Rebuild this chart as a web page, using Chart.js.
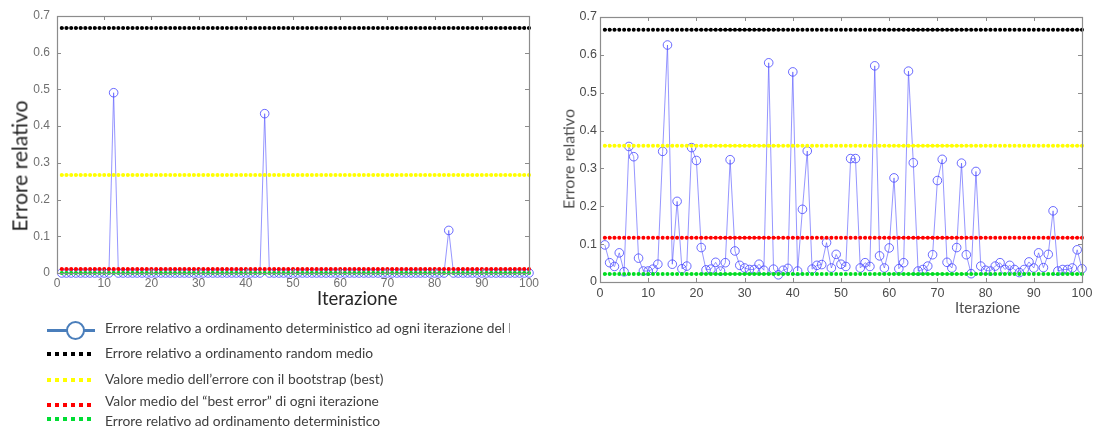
<!DOCTYPE html>
<html>
<head>
<meta charset="utf-8">
<script src="https://cdn.jsdelivr.net/npm/chart.js@4.4.1/dist/chart.umd.min.js"></script>
<style>
  html, body { margin: 0; padding: 0; background: #fff; }
  body { width: 1101px; height: 432px; position: relative; overflow: hidden; font-family: 'Lato', sans-serif; }
  canvas { position: absolute; }
  .txt { position: absolute; white-space: nowrap; line-height: 1.2; }
  .vtxt { position: absolute; white-space: nowrap; line-height: 1.2; transform: translate(-50%, -50%) rotate(-90deg); }
  .legend { position: absolute; left: 0; top: 310px; width: 510px; height: 122px; overflow: hidden; }
  .dots { position: absolute; left: 47px; width: 44px; height: 3.5px; }
  .ltext { position: absolute; left: 105px; font-size: 13.8px; color: #404040; white-space: nowrap; line-height: 1.2; }
</style>
</head>
<body>
<canvas id="leftChart" width="545" height="310" style="left:0;top:0"></canvas>
<canvas id="rightChart" width="551" height="320" style="left:550px;top:0"></canvas>

<div class="vtxt" style="left:19px;top:166px;font-size:21px;color:#262626">Errore relativo</div>
<div class="txt" style="left:317px;top:287px;font-size:18.5px;color:#262626">Iterazione</div>
<div class="vtxt" style="left:568px;top:159px;font-size:16px;color:#505050">Errore relativo</div>
<div class="txt" style="left:955px;top:298px;font-size:15px;color:#505050">Iterazione</div>

<div class="legend">
  <div style="position:absolute;left:47px;top:19px;width:48px;height:3px;background:#4a7ebb"></div>
  <div style="position:absolute;left:66px;top:11px;width:15px;height:15px;border:2px solid #4a7ebb;border-radius:50%;background:#fff"></div>
  <div class="ltext" style="top:10px">Errore relativo a ordinamento deterministico ad ogni iterazione del bootstrap</div>

  <div class="dots" style="top:42px;background:repeating-linear-gradient(90deg,#000 0 4px,transparent 4px 8px)"></div>
  <div class="ltext" style="top:35px">Errore relativo a ordinamento random medio</div>

  <div class="dots" style="top:68px;background:repeating-linear-gradient(90deg,#ffff00 0 4px,transparent 4px 8px)"></div>
  <div class="ltext" style="top:61px">Valore medio dell’errore con il bootstrap (best)</div>

  <div class="dots" style="top:93px;background:repeating-linear-gradient(90deg,#ff0000 0 4px,transparent 4px 8px)"></div>
  <div class="ltext" style="top:83px">Valor medio del “best error” di ogni iterazione</div>

  <div class="dots" style="top:107px;background:repeating-linear-gradient(90deg,#00dd33 0 4px,transparent 4px 8px)"></div>
  <div class="ltext" style="top:103px">Errore relativo ad ordinamento deterministico</div>
</div>

<script>
// iteration index shared by both plots
const iterations = [
  1, 2, 3, 4, 5, 6, 7, 8, 9, 10,
  11, 12, 13, 14, 15, 16, 17, 18, 19, 20,
  21, 22, 23, 24, 25, 26, 27, 28, 29, 30,
  31, 32, 33, 34, 35, 36, 37, 38, 39, 40,
  41, 42, 43, 44, 45, 46, 47, 48, 49, 50,
  51, 52, 53, 54, 55, 56, 57, 58, 59, 60,
  61, 62, 63, 64, 65, 66, 67, 68, 69, 70,
  71, 72, 73, 74, 75, 76, 77, 78, 79, 80,
  81, 82, 83, 84, 85, 86, 87, 88, 89, 90,
  91, 92, 93, 94, 95, 96, 97, 98, 99, 100
];

const xTicks = [0, 10, 20, 30, 40, 50, 60, 70, 80, 90, 100];
const yTicks = [0, 0.1, 0.2, 0.3, 0.4, 0.5, 0.6, 0.7];
const yTickLabels = ['0', '0.1', '0.2', '0.3', '0.4', '0.5', '0.6', '0.7'];

// left plot: deterministic-order error at each bootstrap iteration
const leftDeterministic = [
  0, 0, 0, 0, 0, 0, 0, 0, 0, 0,
  0, 0.491, 0, 0, 0, 0, 0, 0, 0, 0,
  0, 0, 0, 0, 0, 0, 0, 0, 0, 0,
  0, 0, 0, 0, 0, 0, 0, 0, 0, 0,
  0, 0, 0, 0.434, 0, 0, 0, 0, 0, 0,
  0, 0, 0, 0, 0, 0, 0, 0, 0, 0,
  0, 0, 0, 0, 0, 0, 0, 0, 0, 0,
  0, 0, 0, 0, 0, 0, 0, 0, 0, 0,
  0, 0, 0.116, 0, 0, 0, 0, 0, 0, 0,
  0, 0, 0, 0, 0, 0, 0, 0, 0, 0
];
const leftRandomMean = 0.667;
const leftBootstrapMean = 0.267;
const leftBestMean = 0.011;
const leftDetError = 0.0;

// right plot
const rightDeterministic = [
  0.098, 0.051, 0.041, 0.077, 0.027, 0.358, 0.331, 0.063, 0.029, 0.029,
  0.034, 0.047, 0.345, 0.626, 0.047, 0.213, 0.035, 0.042, 0.355, 0.321,
  0.091, 0.032, 0.034, 0.052, 0.029, 0.051, 0.323, 0.082, 0.044, 0.037,
  0.033, 0.033, 0.047, 0.031, 0.579, 0.034, 0.019, 0.031, 0.036, 0.555,
  0.029, 0.192, 0.346, 0.034, 0.044, 0.046, 0.104, 0.037, 0.073, 0.047,
  0.041, 0.326, 0.326, 0.037, 0.051, 0.041, 0.571, 0.069, 0.037, 0.090,
  0.275, 0.035, 0.051, 0.557, 0.315, 0.029, 0.033, 0.042, 0.072, 0.268,
  0.324, 0.052, 0.037, 0.091, 0.314, 0.072, 0.022, 0.292, 0.042, 0.031,
  0.029, 0.042, 0.051, 0.033, 0.044, 0.033, 0.025, 0.033, 0.053, 0.037,
  0.077, 0.038, 0.073, 0.188, 0.029, 0.033, 0.033, 0.037, 0.085, 0.035
];
const rightRandomMean = 0.666;
const rightBootstrapMean = 0.36;
const rightBestMean = 0.117;
const rightDetError = 0.021;

// box around the plot with inward ticks on all four sides
const boxTicks = {
  id: 'boxTicks',
  afterDatasetsDraw(chart, args, opts) {
    const { ctx, chartArea: a, scales: { x, y } } = chart;
    const L = opts.len;
    ctx.save();
    ctx.strokeStyle = opts.color;
    ctx.lineWidth = 1;
    ctx.beginPath();
    x.ticks.forEach(t => {
      const px = Math.round(x.getPixelForValue(t.value)) + 0.5;
      ctx.moveTo(px, a.bottom); ctx.lineTo(px, a.bottom - L);
      ctx.moveTo(px, a.top); ctx.lineTo(px, a.top + L);
    });
    y.ticks.forEach(t => {
      const py = Math.round(y.getPixelForValue(t.value)) + 0.5;
      ctx.moveTo(a.left, py); ctx.lineTo(a.left + L, py);
      ctx.moveTo(a.right, py); ctx.lineTo(a.right - L, py);
    });
    ctx.stroke();
    ctx.lineWidth = opts.width;
    ctx.strokeRect(Math.round(a.left) + 0.5, Math.round(a.top) + 0.5,
                   Math.round(a.width), Math.round(a.height));
    ctx.restore();
  }
};

const constLine = (value, color) => ({
  data: iterations.map(() => value),
  borderColor: color,
  borderWidth: 1.5,
  borderDash: [2, 2.7],
  pointRadius: 2,
  pointBorderWidth: 0,
  pointBackgroundColor: color,
  clip: false
});

const makeChart = (id, series, means, g) => {
  const ctx = document.getElementById(id).getContext('2d');
  return new Chart(ctx, {
    type: 'line',
    data: {
      labels: iterations,
      datasets: [
        constLine(means[3], '#00dd22'),
        constLine(means[2], '#ff0000'),
        constLine(means[1], '#ffff00'),
        constLine(means[0], '#000000'),
        {
          data: series,
          borderColor: 'rgba(80, 80, 255, 0.6)',
          borderWidth: 1,
          pointRadius: 4.3,
          pointBorderWidth: 1,
          pointBorderColor: 'rgba(70, 70, 255, 0.8)',
          pointBackgroundColor: 'rgba(0, 0, 0, 0)',
          tension: 0,
          clip: false
        }
      ]
    },
    options: {
      responsive: false,
      animation: false,
      devicePixelRatio: 1,
      events: [],
      layout: { autoPadding: false, padding: { left: 0, top: g.top, right: g.right, bottom: 0 } },
      plugins: {
        legend: { display: false },
        tooltip: { enabled: false },
        boxTicks: { color: g.boxColor, len: 4, width: 1.2 }
      },
      scales: {
        x: {
          type: 'linear', min: 0, max: 100,
          afterBuildTicks: s => { s.ticks = xTicks.map(v => ({ value: v })); },
          afterFit: s => { s.height = g.xAxisH; },
          grid: { display: false, drawTicks: false },
          border: { display: false },
          ticks: {
            padding: g.xPad, color: g.tickColor, maxRotation: 0, autoSkip: false,
            font: { family: "'Liberation Sans', Arial, sans-serif", size: g.tickSize },
            callback: v => String(v)
          }
        },
        y: {
          type: 'linear', min: 0, max: 0.7,
          afterBuildTicks: s => { s.ticks = yTicks.map(v => ({ value: v })); },
          afterFit: s => { s.width = g.yAxisW; },
          grid: { display: false, drawTicks: false },
          border: { display: false },
          ticks: {
            padding: g.yPad, color: g.tickColor, autoSkip: false,
            font: { family: "'Liberation Sans', Arial, sans-serif", size: g.tickSize },
            callback: (v, i) => yTickLabels[i]
          }
        }
      }
    },
    plugins: [boxTicks]
  });
};

makeChart('leftChart', leftDeterministic,
  [leftRandomMean, leftBootstrapMean, leftBestMean, leftDetError],
  { top: 16, right: 16, xAxisH: 37, yAxisW: 57, xPad: 3, yPad: 7,
    tickColor: '#707070', tickSize: 12, boxColor: '#8c8c8c' });

makeChart('rightChart', rightDeterministic,
  [rightRandomMean, rightBootstrapMean, rightBestMean, rightDetError],
  { top: 17, right: 19, xAxisH: 38, yAxisW: 50, xPad: 4, yPad: 3,
    tickColor: '#4a4a4a', tickSize: 12.5, boxColor: '#8c8c8c' });
</script>
</body>
</html>
